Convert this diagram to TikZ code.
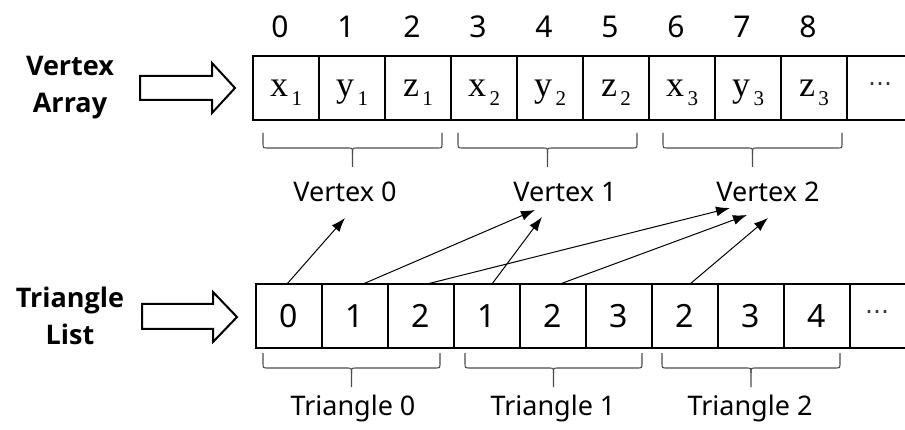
\documentclass[tikz,border=0pt]{standalone}
\usepackage{fontspec}
\setmainfont{Noto Sans}
\newfontfamily\serifx{Liberation Serif}
\newfontfamily\boldside{Open Sans}[BoldFont={* Bold}]
\newfontfamily\dejavu{DejaVu Sans}
\usetikzlibrary{arrows.meta,calc}
\newcommand\xsub[2]{{\serifx\fontsize{36}{36}\selectfont #1\raisebox{-9pt}[0pt][0pt]{\fontsize{21}{21}\selectfont\,#2}}}
\begin{document}
\begin{tikzpicture}[x=1pt,y=-1pt,
  cellbox/.style={draw, line width=2pt, minimum width=66pt, minimum height=64pt, inner sep=0pt, outer sep=0pt, anchor=north west},
  vcell/.style={cellbox, text height=16.5pt, text depth=0pt},
  tcell/.style={cellbox, text height=23pt, text depth=0pt, font=\fontsize{32}{32}\selectfont},
  idx/.style={font=\fontsize{30}{30}\selectfont, inner sep=0pt},
  grp/.style={font=\fontsize{27}{27}\selectfont, inner sep=0pt},
  side/.style={font=\boldside\fontsize{27}{37}\selectfont\bfseries, align=center, inner sep=0pt},
  dotsnode/.style={font=\dejavu\fontsize{24}{24}\selectfont, text=black!80, inner sep=0pt},
  bigarrow/.style={draw, line width=2pt, fill=white, line join=miter},
  bracestyle/.style={draw=black!70, line width=1.1pt},
  rail/.style={line width=2pt},
  link/.style={line width=1pt, -{Latex[length=14pt,width=10pt]}}
]
\useasboundingbox (0,0) rectangle (905,430);

% side labels
\node[side] (va) at (70,88) {Vertex\\Array};
\node[side] (tl) at (70,316) {Triangle\\List};

% hollow arrows
\draw[bigarrow] (140,76) -- (212,76) -- (212,63) -- (235,88) -- (212,113) -- (212,100) -- (140,100) -- cycle;
\draw[bigarrow] (142,304) -- (213,304) -- (213,292) -- (237,317) -- (213,342) -- (213,329) -- (142,329) -- cycle;

% vertex array
\foreach \i/\c in {0/\xsub{x}{1},1/\xsub{y}{1},2/\xsub{z}{1},3/\xsub{x}{2},4/\xsub{y}{2},5/\xsub{z}{2},6/\xsub{x}{3},7/\xsub{y}{3},8/\xsub{z}{3}}{
  \node[vcell] (v\i) at ({253+66*\i},56) {\c};
  \node[idx] (n\i) at ($(v\i.north)+(-6,-29)$) {\i};
}
\draw[rail] (v8.north east) -- (905,56);
\draw[rail] (v8.south east) -- (905,120);
\node[dotsnode] (vd) at (880,87) {⋯};

% triangle list
\foreach \i/\c in {0/0,1/1,2/2,3/1,4/2,5/3,6/2,7/3,8/4}{
  \node[tcell] (t\i) at ({256+66*\i},284) {\c};
}
\draw[rail] (t8.north east) -- (905,284);
\draw[rail] (t8.south east) -- (905,348);
\node[dotsnode] (td) at (877,315) {⋯};

% braces
\foreach \a/\b/\t in {263/442/133,458/637/133,663/842/133,263/440/353,465/642/353,662/840/353}{
  \pgfmathsetmacro\m{(\a+\b)/2}
  \draw[bracestyle] (\a,\t) -- (\a,{\t+10}) .. controls (\a,{\t+15}) .. ({\a+5},{\t+15}) -- ({\m-5},{\t+15}) .. controls (\m,{\t+15}) .. (\m,{\t+20}) -- (\m,{\t+34});
  \draw[bracestyle] (\b,\t) -- (\b,{\t+10}) .. controls (\b,{\t+15}) .. ({\b-5},{\t+15}) -- ({\m+5},{\t+15}) .. controls (\m,{\t+15}) .. (\m,{\t+20});
}

% group labels
\node[grp] (g0) at (345,192) {Vertex 0};
\node[grp] (g1) at (565,192) {Vertex 1};
\node[grp] (g2) at (768,192) {Vertex 2};
\node[grp] (h0) at (353,408) {Triangle 0};
\node[grp] (h1) at (553,408) {Triangle 1};
\node[grp] (h2) at (750,408) {Triangle 2};

% arrow targets
\coordinate (c0) at (345,218);
\coordinate (c1) at (535,210);
\coordinate (c2) at (542,217);
\coordinate (c3) at (730,208);
\coordinate (c4) at (747,215);
\coordinate (c5) at (768,218);

\draw[link] ($(t0.north)+(-2,0)$) -- (c0);
\draw[link] ($(t1.north)+(8,0)$) -- (c1);
\draw[link] ($(t3.north)+(5,0)$) -- (c2);
\draw[link] ($(t2.north)+(6,0)$) -- (c3);
\draw[link] ($(t4.north)+(7,0)$) -- (c4);
\draw[link] ($(t6.north)+(5,0)$) -- (c5);
\end{tikzpicture}
\end{document}
